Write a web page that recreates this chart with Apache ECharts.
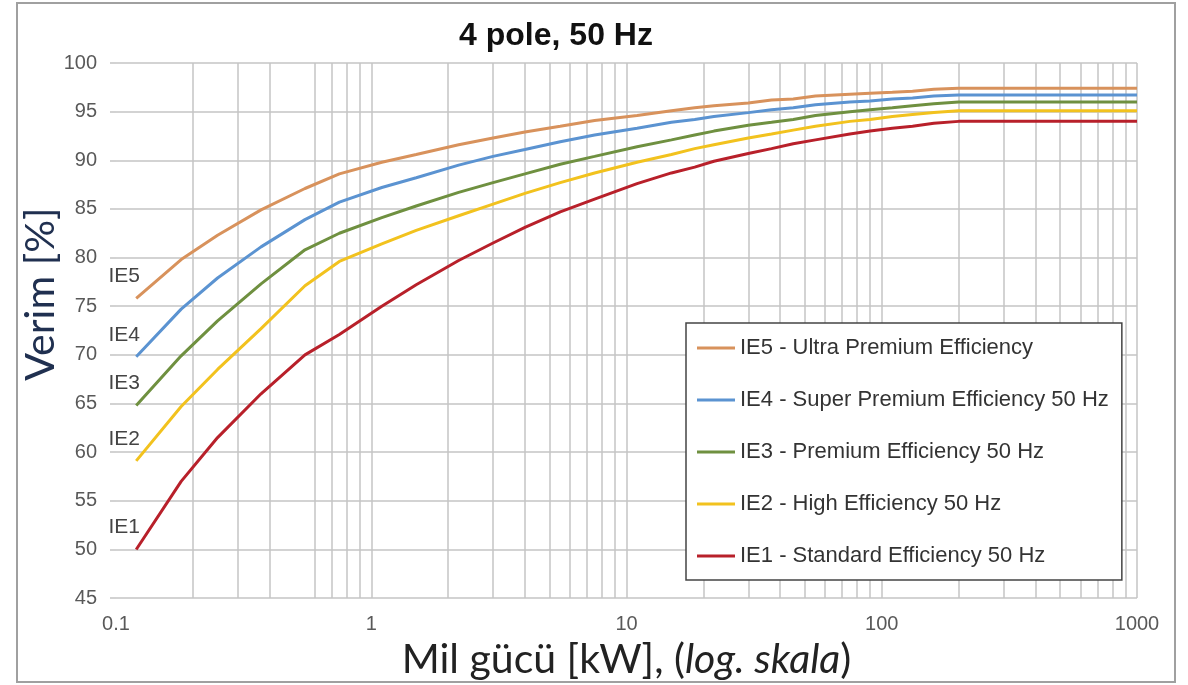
<!DOCTYPE html>
<html>
<head>
<meta charset="utf-8">
<title>4 pole, 50 Hz</title>
<script src="https://cdn.jsdelivr.net/npm/echarts/dist/echarts.min.js"></script>
<style>
  html, body { margin: 0; padding: 0; background: #fff; }
  #chart { width: 1188px; height: 685px; }
</style>
</head>
<body>
<div id="chart"></div>
<script>
// mil gücü, kW
const power = [0.12, 0.18, 0.25, 0.37, 0.55, 0.75, 1.1, 1.5, 2.2, 3, 4, 5.5, 7.5, 11, 15, 18.5, 22, 30, 37, 45, 55, 75, 90, 110, 132, 160, 200, 1000]

// verim, %
const ie5 = [75.8, 79.8, 82.3, 84.9, 87.1, 88.6, 89.8, 90.6, 91.6, 92.3, 92.9, 93.5, 94.1, 94.6, 95.1, 95.4, 95.6, 95.9, 96.2, 96.3, 96.6, 96.8, 96.9, 97.0, 97.1, 97.3, 97.4, 97.4]
const ie4 = [69.8, 74.7, 77.9, 81.1, 83.9, 85.7, 87.2, 88.2, 89.5, 90.4, 91.1, 91.9, 92.6, 93.3, 93.9, 94.2, 94.5, 94.9, 95.2, 95.4, 95.7, 96.0, 96.1, 96.3, 96.4, 96.6, 96.7, 96.7]
const ie3 = [64.8, 69.9, 73.5, 77.3, 80.8, 82.5, 84.1, 85.3, 86.7, 87.7, 88.6, 89.6, 90.4, 91.4, 92.1, 92.6, 93.0, 93.6, 93.9, 94.2, 94.6, 95.0, 95.2, 95.4, 95.6, 95.8, 96.0, 96.0]
const ie2 = [59.1, 64.7, 68.5, 72.7, 77.1, 79.6, 81.4, 82.8, 84.3, 85.5, 86.6, 87.7, 88.7, 89.8, 90.6, 91.2, 91.6, 92.3, 92.7, 93.1, 93.5, 94.0, 94.2, 94.5, 94.7, 94.9, 95.1, 95.1]
const ie1 = [50.0, 57.0, 61.5, 66.0, 70.0, 72.1, 75.0, 77.2, 79.7, 81.5, 83.1, 84.7, 86.0, 87.6, 88.7, 89.3, 89.9, 90.7, 91.2, 91.7, 92.1, 92.7, 93.0, 93.3, 93.5, 93.8, 94.0, 94.0]

const seriesNames = ['IE5 - Ultra Premium Efficiency', 'IE4 - Super Premium Efficiency 50 Hz', 'IE3 - Premium Efficiency 50 Hz', 'IE2 - High Efficiency 50 Hz', 'IE1 - Standard Efficiency 50 Hz']
const shortNames = ['IE5', 'IE4', 'IE3', 'IE2', 'IE1']
const colors = ['#d8925c', '#5b93d1', '#6f9040', '#f2c21e', '#b8202a']

// ara log çizgileri (0.5 resimde yok)
const minorTicks = [0.2, 0.3, 0.4, 0.6, 0.7, 0.8, 0.9,
  2, 3, 4, 5, 6, 7, 8, 9,
  20, 30, 40, 50, 60, 70, 80, 90,
  200, 300, 400, 500, 600, 700, 800, 900]

const gridColor = '#c4c4c4'
const labelFont = '"Liberation Sans", Arial, sans-serif'
const nameFont = 'Lato, "Open Sans", sans-serif'

function makeSeries(values, i) {
  return {
    name: seriesNames[i],
    type: 'line',
    z: 6,
    showSymbol: false,
    symbol: 'none',
    color: colors[i],
    lineStyle: { width: 3, color: colors[i] },
    data: power.map((p, k) => [p, values[k]]),
    // IE etiketi, ilk noktanın üst solunda
    markPoint: {
      silent: true,
      symbol: 'circle',
      symbolSize: 0,
      label: {
        show: true,
        formatter: shortNames[i],
        color: '#444',
        fontSize: 21,
        fontFamily: labelFont,
        offset: [-12, -22]
      },
      data: [{ coord: [power[0], values[0]] }]
    }
  }
}

const series = [ie5, ie4, ie3, ie2, ie1].map(makeSeries)
series[4].markLine = {
  silent: true,
  symbol: ['none', 'none'],
  label: { show: false },
  lineStyle: { color: gridColor, width: 1.5, type: 'solid' },
  data: minorTicks.map(v => ({ xAxis: v }))
}

const chart = echarts.init(document.getElementById('chart'))
const option = {
  animation: false,
  backgroundColor: '#fff',
  title: {
    text: '4 pole, 50 Hz',
    left: 556,
    top: 20,
    padding: 0,
    textAlign: 'center',
    textStyle: {
      fontFamily: labelFont,
      fontSize: 32,
      fontWeight: 'bold',
      color: '#111'
    }
  },
  grid: { left: 116, right: 51, top: 63, bottom: 85 },
  legend: {
    orient: 'vertical',
    left: 686,
    top: 323,
    z: 10,
    data: seriesNames,
    icon: 'rect',
    itemWidth: 38,
    itemHeight: 3,
    itemGap: 30,
    padding: [14, 13, 13, 11],
    backgroundColor: '#fff',
    borderColor: '#444',
    borderWidth: 1.5,
    selectedMode: false,
    textStyle: { fontFamily: labelFont, fontSize: 22, color: '#333' }
  },
  xAxis: {
    type: 'log',
    logBase: 10,
    min: 0.1,
    max: 1000,
    name: '{a|Mil gücü [kW], (}{i|log. skala}{a|)}',
    nameLocation: 'middle',
    nameGap: 30,
    nameTextStyle: {
      rich: {
        a: { fontFamily: nameFont, fontSize: 41, color: '#222' },
        i: { fontFamily: nameFont, fontSize: 41, color: '#222', fontStyle: 'italic' }
      }
    },
    axisLine: { show: false },
    axisTick: { show: false },
    axisLabel: {
      fontFamily: labelFont, fontSize: 20, color: '#595959', margin: 16,
      formatter: v => String(v)
    },
    splitLine: { show: true, showMinLine: false, lineStyle: { color: gridColor, width: 1.5 } }
  },
  yAxis: {
    type: 'value',
    min: 45,
    max: 100,
    interval: 5,
    axisLine: { show: false },
    axisTick: { show: true, length: 6, lineStyle: { color: gridColor, width: 1.5 } },
    axisLabel: { fontFamily: labelFont, fontSize: 20, color: '#595959', margin: 19 },
    splitLine: { show: true, lineStyle: { color: gridColor, width: 1.5 } }
  },
  graphic: [
    {
      type: 'rect',
      z: -1,
      shape: { x: 17, y: 3, width: 1158, height: 679 },
      style: { fill: 'none', stroke: '#a0a0a0', lineWidth: 2 }
    },
    {
      type: 'text',
      x: 41,
      y: 294,
      rotation: Math.PI / 2,
      style: {
        text: 'Verim [%]',
        fontFamily: nameFont,
        fontSize: 41,
        fill: '#203050',
        align: 'center',
        verticalAlign: 'middle'
      }
    }
  ],
  series: series
}
chart.setOption(option)
</script>
</body>
</html>
